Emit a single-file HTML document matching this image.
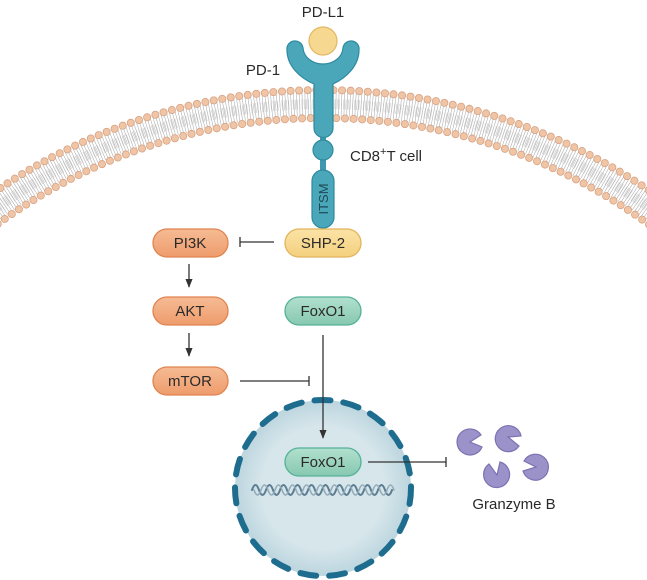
<!DOCTYPE html>
<html><head><meta charset="utf-8"><style>
html,body{margin:0;padding:0;background:#fff}
svg{display:block}
text{font-family:"Liberation Sans",Arial,sans-serif;fill:#2a2a2a}
</style></head><body>
<svg width="647" height="580" viewBox="0 0 647 580" xmlns="http://www.w3.org/2000/svg">
<defs>
<linearGradient id="og" x1="0" y1="0" x2="0" y2="1"><stop offset="0" stop-color="#f6bb94"/><stop offset="1" stop-color="#ee9c6c"/></linearGradient>
<linearGradient id="yg" x1="0" y1="0" x2="0" y2="1"><stop offset="0" stop-color="#fbe3a6"/><stop offset="1" stop-color="#f4d07e"/></linearGradient>
<linearGradient id="gg" x1="0" y1="0" x2="0" y2="1"><stop offset="0" stop-color="#b2e0cf"/><stop offset="1" stop-color="#86c8b0"/></linearGradient>
<radialGradient id="ng" cx="0.5" cy="0.5" r="0.5"><stop offset="0.7" stop-color="#d6e6eb"/><stop offset="1" stop-color="#bcd5de"/></radialGradient>
<marker id="ar" viewBox="0 0 10 10" refX="9" refY="5" markerWidth="7" markerHeight="7" orient="auto"><path d="M0,1 L10,5 L0,9 Z" fill="#333"/></marker>
</defs>

<!-- membrane -->
<g fill="none">
<circle cx="323" cy="670" r="566" stroke="#a8a8a8" stroke-width="24" stroke-dasharray="0.6 2.2" opacity="0.9"/>
<circle cx="323" cy="670" r="566" stroke="#c4c4c4" stroke-width="10" stroke-dasharray="0.6 1.6" stroke-dashoffset="1"/>
<circle cx="323" cy="670" r="580" stroke="#d6a283" stroke-width="8" stroke-dasharray="0 8.6" stroke-linecap="round"/>
<circle cx="323" cy="670" r="580" stroke="#f0c5a6" stroke-width="6.4" stroke-dasharray="0 8.6" stroke-linecap="round"/>
<circle cx="323" cy="670" r="552" stroke="#d6a283" stroke-width="8" stroke-dasharray="0 8.6" stroke-linecap="round"/>
<circle cx="323" cy="670" r="552" stroke="#f0c5a6" stroke-width="6.4" stroke-dasharray="0 8.6" stroke-linecap="round"/>
</g>

<!-- nucleus -->
<circle cx="323" cy="488" r="88" fill="url(#ng)"/>
<circle cx="323" cy="488" r="88" fill="none" stroke="#1e6d8e" stroke-width="6" stroke-dasharray="16 13" stroke-linecap="round"/>

<!-- receptor -->
<rect x="320" y="120" width="6" height="55" fill="#3f98ad"/>
<circle cx="323" cy="150" r="10" fill="#4aa6b9" stroke="#2f8aa0" stroke-width="1.2"/>
<rect x="312" y="170" width="22" height="58" rx="11" fill="#4aa6b9" stroke="#2f8aa0" stroke-width="1.2"/>
<text transform="translate(328,199) rotate(-90)" text-anchor="middle" font-size="13" style="fill:#1d4a57">ITSM</text>
<path d="M314,128 L314,84 C300,78 287,66 287,50 A8,8 0 0 1 303,48 C304,58 313,64 323,64 C333,64 342,58 343,48 A8,8 0 0 1 359,50 C359,66 346,78 333,84 L333,128 A9.5,9.5 0 0 1 314,128 Z" fill="#4aa6b9" stroke="#2f8aa0" stroke-width="1.2"/>
<circle cx="323" cy="41" r="14" fill="#f7d891" stroke="#e2b862" stroke-width="1.2"/>
<text x="323" y="17" text-anchor="middle" font-size="15">PD-L1</text>
<text x="263" y="75" text-anchor="middle" font-size="15">PD-1</text>
<text x="350" y="161" font-size="15">CD8<tspan dy="-6" font-size="11">+</tspan><tspan dy="6">T cell</tspan></text>

<!-- nodes -->
<g font-size="15" text-anchor="middle">
<rect x="153" y="229" width="75" height="28" rx="14" fill="url(#og)" stroke="#e0844f" stroke-width="1.3"/><text x="190" y="248">PI3K</text>
<rect x="285" y="229" width="76" height="28" rx="14" fill="url(#yg)" stroke="#e2b45c" stroke-width="1.3"/><text x="323" y="248">SHP-2</text>
<rect x="153" y="297" width="75" height="28" rx="14" fill="url(#og)" stroke="#e0844f" stroke-width="1.3"/><text x="190" y="316">AKT</text>
<rect x="285" y="297" width="76" height="28" rx="14" fill="url(#gg)" stroke="#55b197" stroke-width="1.3"/><text x="323" y="316">FoxO1</text>
<rect x="153" y="367" width="75" height="28" rx="14" fill="url(#og)" stroke="#e0844f" stroke-width="1.3"/><text x="190" y="386">mTOR</text>
<rect x="285" y="448" width="76" height="28" rx="14" fill="url(#gg)" stroke="#55b197" stroke-width="1.3"/><text x="323" y="467">FoxO1</text>
</g>

<!-- connectors -->
<g stroke="#333" stroke-width="1.3" fill="none">
<line x1="274" y1="242" x2="240" y2="242"/><line x1="240" y1="237" x2="240" y2="247"/>
<line x1="189" y1="264" x2="189" y2="287" marker-end="url(#ar)"/>
<line x1="189" y1="333" x2="189" y2="356" marker-end="url(#ar)"/>
<line x1="240" y1="381" x2="309" y2="381"/><line x1="309" y1="376" x2="309" y2="386"/>
<line x1="323" y1="335" x2="323" y2="438" marker-end="url(#ar)"/>
<line x1="368" y1="462" x2="446" y2="462"/><line x1="446" y1="457" x2="446" y2="467"/>
</g>

<!-- DNA -->
<g fill="none" stroke-linecap="round">
<path d="M252,490 q3.5,-10 7,0 t7,0 t7,0 t7,0 t7,0 t7,0 t7,0 t7,0 t7,0 t7,0 t7,0 t7,0 t7,0 t7,0 t7,0 t7,0 t7,0 t7,0 t7,0 t7,0" stroke="#5d7e92" stroke-width="2"/>
<path d="M254,490 q3.5,10 7,0 t7,0 t7,0 t7,0 t7,0 t7,0 t7,0 t7,0 t7,0 t7,0 t7,0 t7,0 t7,0 t7,0 t7,0 t7,0 t7,0 t7,0 t7,0 t7,0" stroke="#93abb9" stroke-width="1.6"/>
</g>

<!-- granzymes -->
<g fill="#9a92c8" stroke="#7b73b2" stroke-width="1.2">
<path d="M470,442 L482,447 A13,13 0 1 1 481,435 Z"/>
<path d="M508,437 L519,446 A13,13 0 1 1 521,436 Z"/>
<path d="M497,475 L489,464 A13,13 0 1 0 500,462 Z"/>
<path d="M536,467 L523,471 A13,13 0 1 0 524,461 Z"/>
</g>
<text x="514" y="509" text-anchor="middle" font-size="15">Granzyme B</text>
</svg>
</body></html>
